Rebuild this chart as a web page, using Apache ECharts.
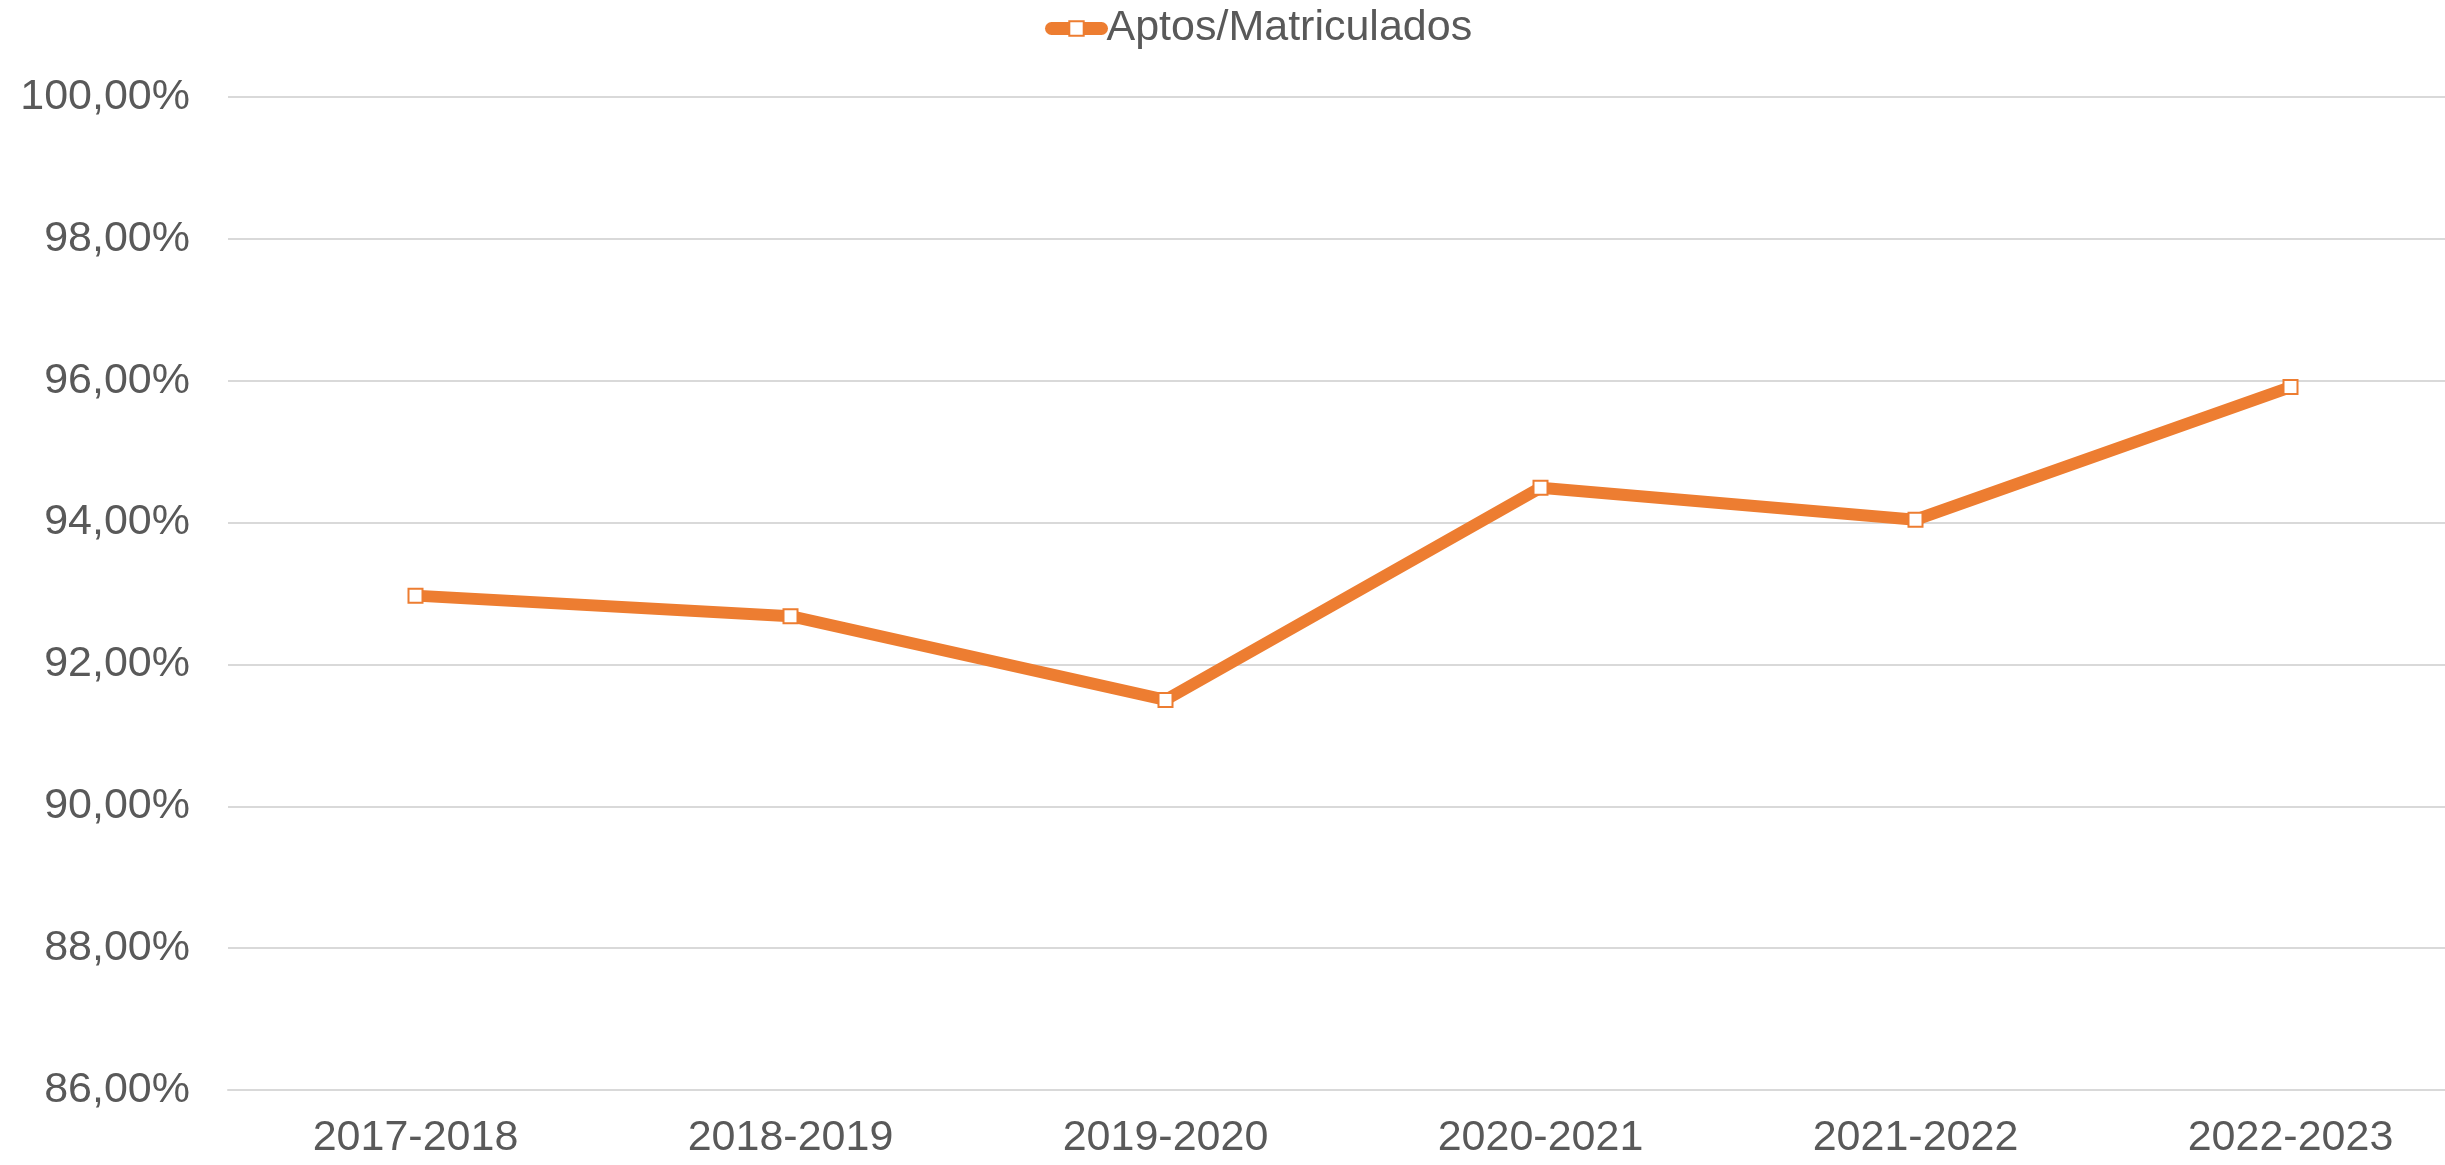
<!DOCTYPE html>
<html>
<head>
<meta charset="utf-8">
<script src="https://cdn.jsdelivr.net/npm/echarts@6/dist/echarts.min.js"></script>
<style>
  html, body { margin: 0; padding: 0; background: #fff; }
  #chart { width: 2445px; height: 1165px; }
</style>
</head>
<body>
<div id="chart"></div>
<script>
const categories = ['2017-2018', '2018-2019', '2019-2020', '2020-2021', '2021-2022', '2022-2023'];
const aptosMatriculados = [92.97, 92.68, 91.50, 94.49, 94.04, 95.91];
const seriesName = 'Aptos/Matriculados';

const textColor = '#595959';
const gridColor = '#d9d9d9';
const orange = '#ED7D31';
const font = "'Liberation Sans', Arial, sans-serif";

const chart = echarts.init(document.getElementById('chart'));

chart.setOption({
  animation: false,
  backgroundColor: '#ffffff',
  textStyle: { fontFamily: font },
  legend: {
    top: 2,
    left: 1040,
    itemWidth: 50,
    itemHeight: 18,
    itemGap: 20,
    lineStyle: { width: 13, color: orange, cap: 'round' },
    itemStyle: { color: '#ffffff', borderColor: orange, borderWidth: 2 },
    textStyle: { fontSize: 43, color: textColor, fontFamily: font },
    data: [seriesName]
  },
  grid: {
    left: 228,
    right: -33,
    top: 97,
    bottom: 75,
    containLabel: false,
    outerBoundsMode: 'none'
  },
  xAxis: {
    type: 'category',
    data: categories,
    boundaryGap: true,
    axisLine: { show: true, lineStyle: { color: gridColor, width: 2 } },
    axisTick: { show: false },
    axisLabel: { color: textColor, fontSize: 43, margin: 27, fontFamily: font }
  },
  yAxis: {
    type: 'value',
    min: 86,
    max: 100,
    interval: 2,
    axisLine: { show: false },
    axisTick: { show: false },
    splitLine: { show: true, lineStyle: { color: gridColor, width: 2 } },
    axisLabel: {
      color: textColor,
      fontSize: 43,
      margin: 38,
      fontFamily: font,
      formatter: v => v.toFixed(2).replace('.', ',') + '%'
    }
  },
  series: [
    {
      name: seriesName,
      type: 'line',
      data: aptosMatriculados,
      symbol: 'rect',
      symbolSize: 14,
      showAllSymbol: true,
      lineStyle: { color: orange, width: 12, cap: 'round', join: 'round' },
      itemStyle: { color: '#ffffff', borderColor: orange, borderWidth: 2 },
      emphasis: { disabled: true }
    }
  ]
});
</script>
</body>
</html>
